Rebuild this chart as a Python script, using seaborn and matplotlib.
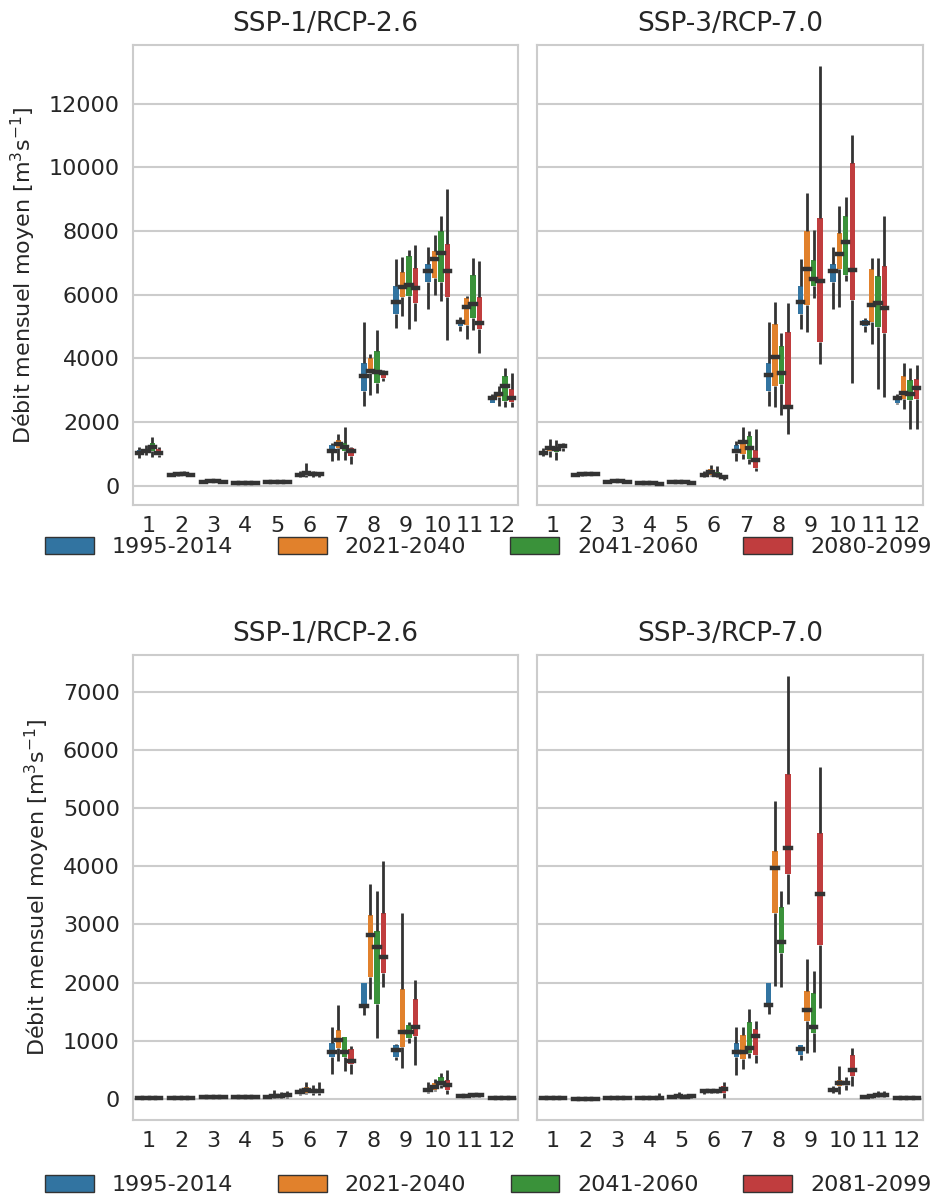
import numpy as np
import pandas as pd
import matplotlib
matplotlib.use("Agg")
import matplotlib.pyplot as plt
import seaborn as sns
from matplotlib.patches import Patch

# ---------------- data ----------------
months = [str(m) for m in range(1, 13)]
periods_top = ["1995-2014", "2021-2040", "2041-2060", "2080-2099"]
periods_bottom = ["1995-2014", "2021-2040", "2041-2060", "2081-2099"]
titles = ["SSP-1/RCP-2.6", "SSP-3/RCP-7.0"]
ylabel = "Débit mensuel moyen [m$^3$s$^{-1}$]"
yticks_top = [0, 2000, 4000, 6000, 8000, 10000, 12000]
yticks_bottom = [0, 1000, 2000, 3000, 4000, 5000, 6000, 7000]

# each entry: (whisker low, Q1, median, Q3, whisker high) for months 1..12
# ---- top row, SSP-1/RCP-2.6 ----
tl_p1 = [(880, 1000, 1040, 1120, 1230), (300, 330, 350, 370, 400), (100, 120, 130, 140, 160),
         (55, 65, 70, 78, 90), (80, 95, 105, 115, 130), (260, 320, 350, 390, 450),
         (790, 1080, 1100, 1290, 1345), (2500, 2975, 3460, 3870, 5150), (4940, 5410, 5760, 6285, 7125),
         (5550, 6410, 6760, 6970, 7490), (4870, 5020, 5130, 5200, 5310), (2585, 2600, 2765, 2815, 2870)]
tl_p2 = [(960, 1060, 1100, 1160, 1280), (310, 340, 360, 380, 410), (105, 125, 135, 145, 170),
         (55, 65, 72, 80, 92), (82, 97, 107, 117, 135), (280, 350, 400, 460, 720),
         (820, 1190, 1300, 1450, 1610), (2850, 3550, 3600, 4025, 4130), (5340, 5917, 6230, 6705, 7200),
         (6000, 6530, 7115, 7370, 7880), (4600, 5055, 5600, 5900, 5950), (2500, 2785, 2890, 2950, 3130)]
tl_p3 = [(900, 1100, 1200, 1330, 1540), (320, 350, 380, 400, 460), (110, 130, 140, 150, 180),
         (58, 68, 75, 82, 95), (85, 100, 110, 120, 140), (270, 330, 360, 400, 470),
         (810, 1100, 1220, 1345, 1840), (2920, 3215, 3575, 4235, 4900), (4920, 5970, 6317, 7230, 7420),
         (5810, 6390, 7305, 8000, 8470), (4890, 5255, 5710, 6630, 7160), (2470, 2660, 3130, 3450, 3690)]
tl_p4 = [(900, 960, 1040, 1160, 1220), (300, 330, 350, 370, 400), (100, 120, 130, 140, 160),
         (55, 65, 70, 78, 90), (80, 95, 105, 115, 130), (280, 330, 360, 390, 440),
         (680, 920, 1100, 1190, 1210), (3290, 3395, 3530, 3600, 3640), (5160, 5730, 6200, 6840, 7570),
         (4570, 5917, 6740, 7600, 9330), (4160, 4920, 5100, 5940, 7050), (2470, 2640, 2765, 3030, 3550)]

# ---- top row, SSP-3/RCP-7.0 ----
tr_p1 = [(920, 1000, 1030, 1100, 1190), (300, 330, 350, 370, 400), (100, 120, 130, 140, 160),
         (55, 65, 70, 78, 90), (80, 95, 105, 115, 130), (260, 320, 350, 380, 450),
         (790, 1030, 1100, 1290, 1400), (2500, 2970, 3465, 3865, 5155), (4915, 5410, 5775, 6280, 7120),
         (5545, 6400, 6750, 6960, 7490), (4840, 5020, 5125, 5210, 5280), (2570, 2600, 2740, 2815, 2890)]
tr_p2 = [(890, 1080, 1190, 1250, 1470), (310, 345, 365, 385, 420), (105, 125, 135, 145, 165),
         (55, 65, 72, 80, 92), (82, 97, 107, 117, 140), (300, 330, 430, 535, 640),
         (850, 980, 1365, 1400, 1840), (2480, 3130, 4040, 5070, 5785), (4840, 5670, 6800, 8010, 9200),
         (5600, 6800, 7280, 7930, 8800), (4460, 5155, 5670, 6800, 7150), (2395, 2710, 2920, 3445, 3840)]
tr_p3 = [(820, 1050, 1155, 1230, 1450), (320, 350, 370, 395, 440), (105, 125, 135, 145, 165),
         (55, 65, 72, 80, 92), (80, 95, 105, 120, 150), (270, 320, 350, 420, 610),
         (680, 850, 1190, 1555, 1710), (2215, 3180, 3550, 4390, 4810), (5910, 6270, 6510, 7090, 8030),
         (6440, 6615, 7645, 8485, 9080), (3025, 4990, 5745, 6590, 7150), (1765, 2680, 2865, 3310, 3685)]
tr_p4 = [(1100, 1180, 1240, 1280, 1330), (320, 350, 380, 400, 430), (100, 115, 125, 135, 155),
         (50, 60, 65, 72, 85), (70, 85, 92, 100, 115), (190, 230, 260, 300, 340),
         (450, 555, 810, 1135, 1765), (1630, 2470, 2480, 4840, 5730), (3830, 4525, 6440, 8400, 13190),
         (3235, 5830, 6770, 10140, 11035), (2780, 4810, 5575, 6890, 8480), (1765, 2730, 3075, 3360, 3790)]

# ---- bottom row, SSP-1/RCP-2.6 ----
bl_p1 = [(5, 12, 18, 25, 35), (3, 7, 10, 13, 18), (15, 22, 28, 35, 45),
         (15, 22, 28, 35, 45), (15, 25, 35, 45, 60), (70, 85, 115, 130, 190),
         (430, 715, 800, 960, 1245), (1445, 1600, 1605, 1990, 2000), (675, 730, 850, 920, 945),
         (100, 120, 150, 190, 290), (30, 40, 45, 55, 65), (8, 12, 18, 22, 30)]
bl_p2 = [(5, 12, 18, 25, 35), (3, 7, 10, 13, 18), (15, 25, 32, 42, 60),
         (15, 22, 30, 38, 50), (20, 35, 50, 75, 150), (80, 100, 150, 200, 300),
         (655, 875, 1017, 1190, 1615), (1720, 2100, 2817, 3160, 3690), (530, 900, 1160, 1890, 3205),
         (130, 160, 200, 275, 345), (35, 45, 55, 70, 85), (8, 12, 18, 22, 30)]
bl_p3 = [(5, 12, 18, 25, 35), (3, 7, 10, 13, 18), (15, 22, 28, 35, 45),
         (18, 25, 35, 45, 70), (20, 30, 45, 65, 120), (70, 100, 130, 160, 235),
         (480, 720, 800, 1060, 1070), (1045, 1635, 2617, 2890, 3570), (960, 1045, 1160, 1275, 1330),
         (190, 235, 275, 375, 445), (35, 50, 60, 75, 90), (8, 12, 18, 22, 30)]
bl_p4 = [(5, 12, 18, 25, 35), (3, 7, 10, 13, 18), (15, 22, 28, 35, 45),
         (15, 22, 28, 35, 45), (25, 40, 60, 90, 130), (60, 95, 130, 160, 290),
         (435, 600, 660, 860, 915), (1930, 2160, 2445, 3190, 4085), (590, 1085, 1230, 1715, 2045),
         (90, 160, 235, 330, 500), (40, 50, 60, 75, 85), (8, 12, 18, 22, 30)]

# ---- bottom row, SSP-3/RCP-7.0 ----
br_p1 = [(3, 8, 12, 18, 25), (2, 5, 8, 11, 15), (10, 15, 20, 26, 35),
         (10, 15, 20, 26, 35), (20, 30, 40, 50, 65), (90, 115, 130, 145, 160),
         (415, 720, 800, 960, 1245), (1455, 1605, 1610, 1990, 1995), (675, 760, 857, 920, 930),
         (100, 130, 160, 190, 215), (20, 30, 40, 50, 60), (5, 10, 15, 20, 25)]
br_p2 = [(3, 8, 12, 18, 25), (2, 5, 8, 11, 15), (10, 15, 20, 26, 35),
         (10, 15, 20, 26, 35), (25, 35, 45, 60, 120), (100, 125, 145, 160, 175),
         (520, 685, 800, 1100, 1245), (1940, 3205, 3970, 4255, 5130), (790, 1340, 1530, 1855, 2415),
         (85, 215, 275, 330, 575), (25, 35, 45, 60, 75), (5, 10, 15, 20, 25)]
br_p3 = [(3, 8, 12, 18, 25), (2, 5, 8, 11, 15), (10, 15, 20, 26, 35),
         (10, 15, 20, 26, 35), (20, 30, 40, 55, 80), (100, 120, 135, 150, 180),
         (700, 790, 875, 1315, 1550), (1930, 2510, 2700, 3300, 3570), (815, 1130, 1245, 1830, 2205),
         (160, 240, 275, 300, 370), (30, 45, 60, 75, 140), (5, 10, 15, 20, 25)]
br_p4 = [(3, 8, 12, 18, 25), (2, 5, 8, 11, 15), (10, 15, 20, 26, 35),
         (12, 18, 25, 35, 100), (25, 35, 50, 65, 90), (20, 100, 170, 215, 290),
         (615, 750, 1075, 1200, 1340), (3360, 3860, 4320, 5585, 7270), (1570, 2645, 3520, 4575, 5710),
         (215, 390, 490, 750, 885), (35, 50, 65, 80, 140), (5, 10, 15, 20, 25)]

panels = [
    ([tl_p1, tl_p2, tl_p3, tl_p4], periods_top),
    ([tr_p1, tr_p2, tr_p3, tr_p4], periods_top),
    ([bl_p1, bl_p2, bl_p3, bl_p4], periods_bottom),
    ([br_p1, br_p2, br_p3, br_p4], periods_bottom),
]


def to_frame(series, periods):
    rows = []
    for period, stats in zip(periods, series):
        for month, five in zip(months, stats):
            for v in five:
                rows.append({"month": month, "period": period, "value": v})
    return pd.DataFrame(rows)


# ---------------- style ----------------
sns.set_theme(style="whitegrid")
plt.rcParams["font.family"] = ["DejaVu Sans"]
plt.rcParams["axes.edgecolor"] = "#cccccc"
plt.rcParams["grid.color"] = "#cccccc"
plt.rcParams["grid.linewidth"] = 1.5

palette = sns.color_palette("tab10", 4)
line_col = "#333333"
FS = 16

fig = plt.figure(figsize=(9.38, 11.98), dpi=100)
rects = [
    [0.1418, 0.5785, 0.4104, 0.3839],
    [0.5725, 0.5785, 0.4115, 0.3839],
    [0.1418, 0.0651, 0.4104, 0.3882],
    [0.5725, 0.0651, 0.4115, 0.3882],
]
axes = []
for i, r in enumerate(rects):
    if i % 2 == 1:
        ax = fig.add_axes(r, sharey=axes[i - 1])
    else:
        ax = fig.add_axes(r)
    axes.append(ax)

for i, (ax, (series, periods)) in enumerate(zip(axes, panels)):
    df = to_frame(series, periods)
    sns.boxplot(data=df, x="month", y="value", hue="period", order=months,
                hue_order=periods, palette=palette, saturation=0.75,
                width=0.8, gap=0.16, whis=(0, 100), showcaps=False,
                showfliers=False, linecolor=line_col, linewidth=2,
                boxprops={"linewidth": 0},
                whiskerprops={"linewidth": 2, "color": line_col},
                medianprops={"linewidth": 3.2, "color": line_col,
                             "solid_capstyle": "projecting"},
                legend=False, ax=ax)
    ax.set_title(titles[i % 2], fontsize=19, pad=10)
    ax.set_xlabel("")
    ax.tick_params(axis="both", labelsize=FS)
    ax.tick_params(axis="x", pad=2)
    ax.set_xlim(-0.5, 11.5)
    if i % 2 == 0:
        ax.set_ylabel(ylabel, fontsize=FS, labelpad=8)
    else:
        ax.set_ylabel("")
        ax.tick_params(labelleft=False)
    for s in ax.spines.values():
        s.set_color("#cccccc")
        s.set_linewidth(1.5)

axes[0].set_yticks(yticks_top)
axes[2].set_yticks(yticks_bottom)

# legends
cols = sns.color_palette(palette, desat=0.75)
for periods, yc in [(periods_top, 0.5435), (periods_bottom, 0.0109)]:
    handles = [Patch(facecolor=c, edgecolor=line_col, linewidth=1.0) for c in cols]
    fig.legend(handles, periods, loc="center", ncol=4, mode="expand",
               bbox_to_anchor=(0.048, yc, 0.945, 0), frameon=False,
               fontsize=FS, handlelength=2.2, handleheight=0.85,
               handletextpad=0.8, borderaxespad=0, borderpad=0)

fig.savefig("out.png", dpi=100)
